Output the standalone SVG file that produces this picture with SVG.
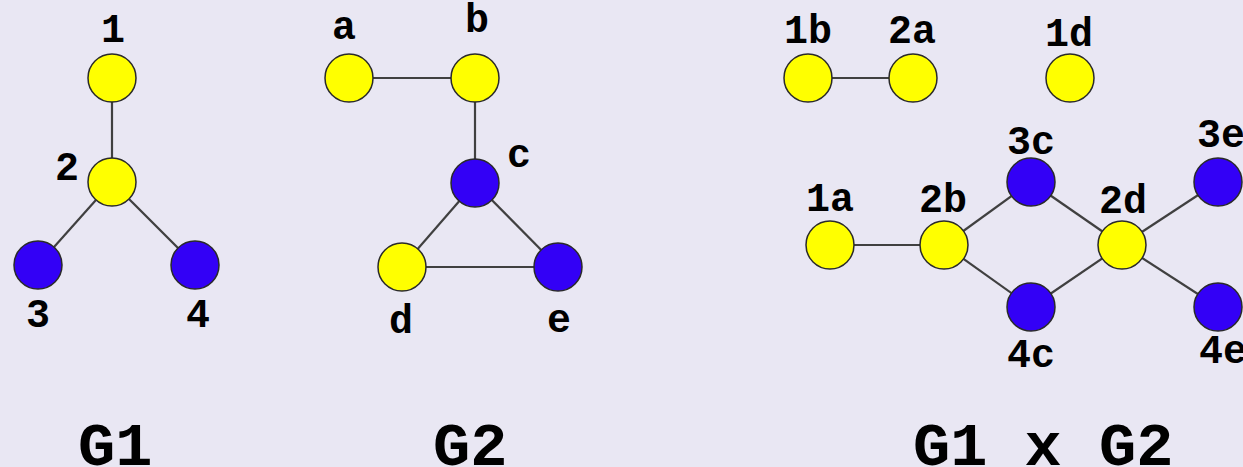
<svg xmlns="http://www.w3.org/2000/svg" width="1243" height="467" viewBox="0 0 1243 467">
<style>
.bg{fill:#e9e7f3}
.e{stroke:#404040;stroke-width:2.2;fill:none}
.y{fill:#ffff00;stroke:#2a2a2a;stroke-width:1.5}
.b{fill:#3300f6;stroke:#2a2a2a;stroke-width:1.5}
.l{font-family:"Liberation Mono","Courier New",monospace;font-weight:bold;font-size:40px;fill:#000;text-anchor:middle}
.t{font-family:"Liberation Mono","Courier New",monospace;font-weight:bold;font-size:62px;fill:#000}
</style>
<rect class="bg" x="0" y="0" width="1243" height="467"/>
<g id="connectors">
<line class="e" x1="112" y1="78" x2="112" y2="182"/>
<line class="e" x1="112" y1="182" x2="38" y2="265"/>
<line class="e" x1="112" y1="182" x2="195" y2="265"/>
<line class="e" x1="349" y1="78" x2="475" y2="78"/>
<line class="e" x1="475" y1="78" x2="475" y2="183"/>
<line class="e" x1="475" y1="183" x2="402" y2="267"/>
<line class="e" x1="475" y1="183" x2="558" y2="267"/>
<line class="e" x1="402" y1="267" x2="558" y2="267"/>
<line class="e" x1="808" y1="78" x2="913" y2="78"/>
<line class="e" x1="830" y1="245" x2="944" y2="245"/>
<line class="e" x1="944" y1="245" x2="1031" y2="182"/>
<line class="e" x1="944" y1="245" x2="1031" y2="307"/>
<line class="e" x1="1031" y1="182" x2="1122" y2="245"/>
<line class="e" x1="1031" y1="307" x2="1122" y2="245"/>
<line class="e" x1="1122" y1="245" x2="1218" y2="182"/>
<line class="e" x1="1122" y1="245" x2="1218" y2="307"/>
</g>
<g id="n1"><circle class="y" cx="112" cy="78" r="24"/><text class="l" x="113" y="42">1</text></g>
<g id="n2"><circle class="y" cx="112" cy="182" r="24"/><text class="l" x="67" y="180">2</text></g>
<g id="n3"><circle class="b" cx="38" cy="265" r="24"/><text class="l" x="38" y="327">3</text></g>
<g id="n4"><circle class="b" cx="195" cy="265" r="24"/><text class="l" x="198" y="327">4</text></g>
<g id="na"><circle class="y" cx="349" cy="78" r="24"/><text class="l" x="344" y="39">a</text></g>
<g id="nb"><circle class="y" cx="475" cy="78" r="24"/><text class="l" x="477" y="32">b</text></g>
<g id="nc"><circle class="b" cx="475" cy="183" r="24"/><text class="l" x="519" y="167">c</text></g>
<g id="nd"><circle class="y" cx="402" cy="267" r="24"/><text class="l" x="401" y="333">d</text></g>
<g id="ne"><circle class="b" cx="558" cy="267" r="24"/><text class="l" x="559" y="332">e</text></g>
<g id="n1b"><circle class="y" cx="808" cy="78" r="24"/><text class="l" x="808" y="43">1b</text></g>
<g id="n2a"><circle class="y" cx="913" cy="78" r="24"/><text class="l" x="912" y="43">2a</text></g>
<g id="n1d"><circle class="y" cx="1070" cy="78" r="24"/><text class="l" x="1069" y="46">1d</text></g>
<g id="n1a"><circle class="y" cx="830" cy="245" r="24"/><text class="l" x="830" y="211">1a</text></g>
<g id="n2b"><circle class="y" cx="944" cy="245" r="24"/><text class="l" x="943" y="212">2b</text></g>
<g id="n3c"><circle class="b" cx="1031" cy="182" r="24"/><text class="l" x="1031" y="154">3c</text></g>
<g id="n4c"><circle class="b" cx="1031" cy="307" r="24"/><text class="l" x="1031" y="367">4c</text></g>
<g id="n2d"><circle class="y" cx="1122" cy="245" r="24"/><text class="l" x="1123" y="213">2d</text></g>
<g id="n3e"><circle class="b" cx="1218" cy="182" r="24"/><text class="l" x="1221" y="147">3e</text></g>
<g id="n4e"><circle class="b" cx="1218" cy="307" r="24"/><text class="l" x="1223" y="363">4e</text></g>
<g id="titles">
<text class="t" x="78" y="465">G1</text>
<text class="t" x="433" y="465">G2</text>
<text class="t" x="913" y="465" xml:space="preserve">G1 x G2</text>
</g>
</svg>
